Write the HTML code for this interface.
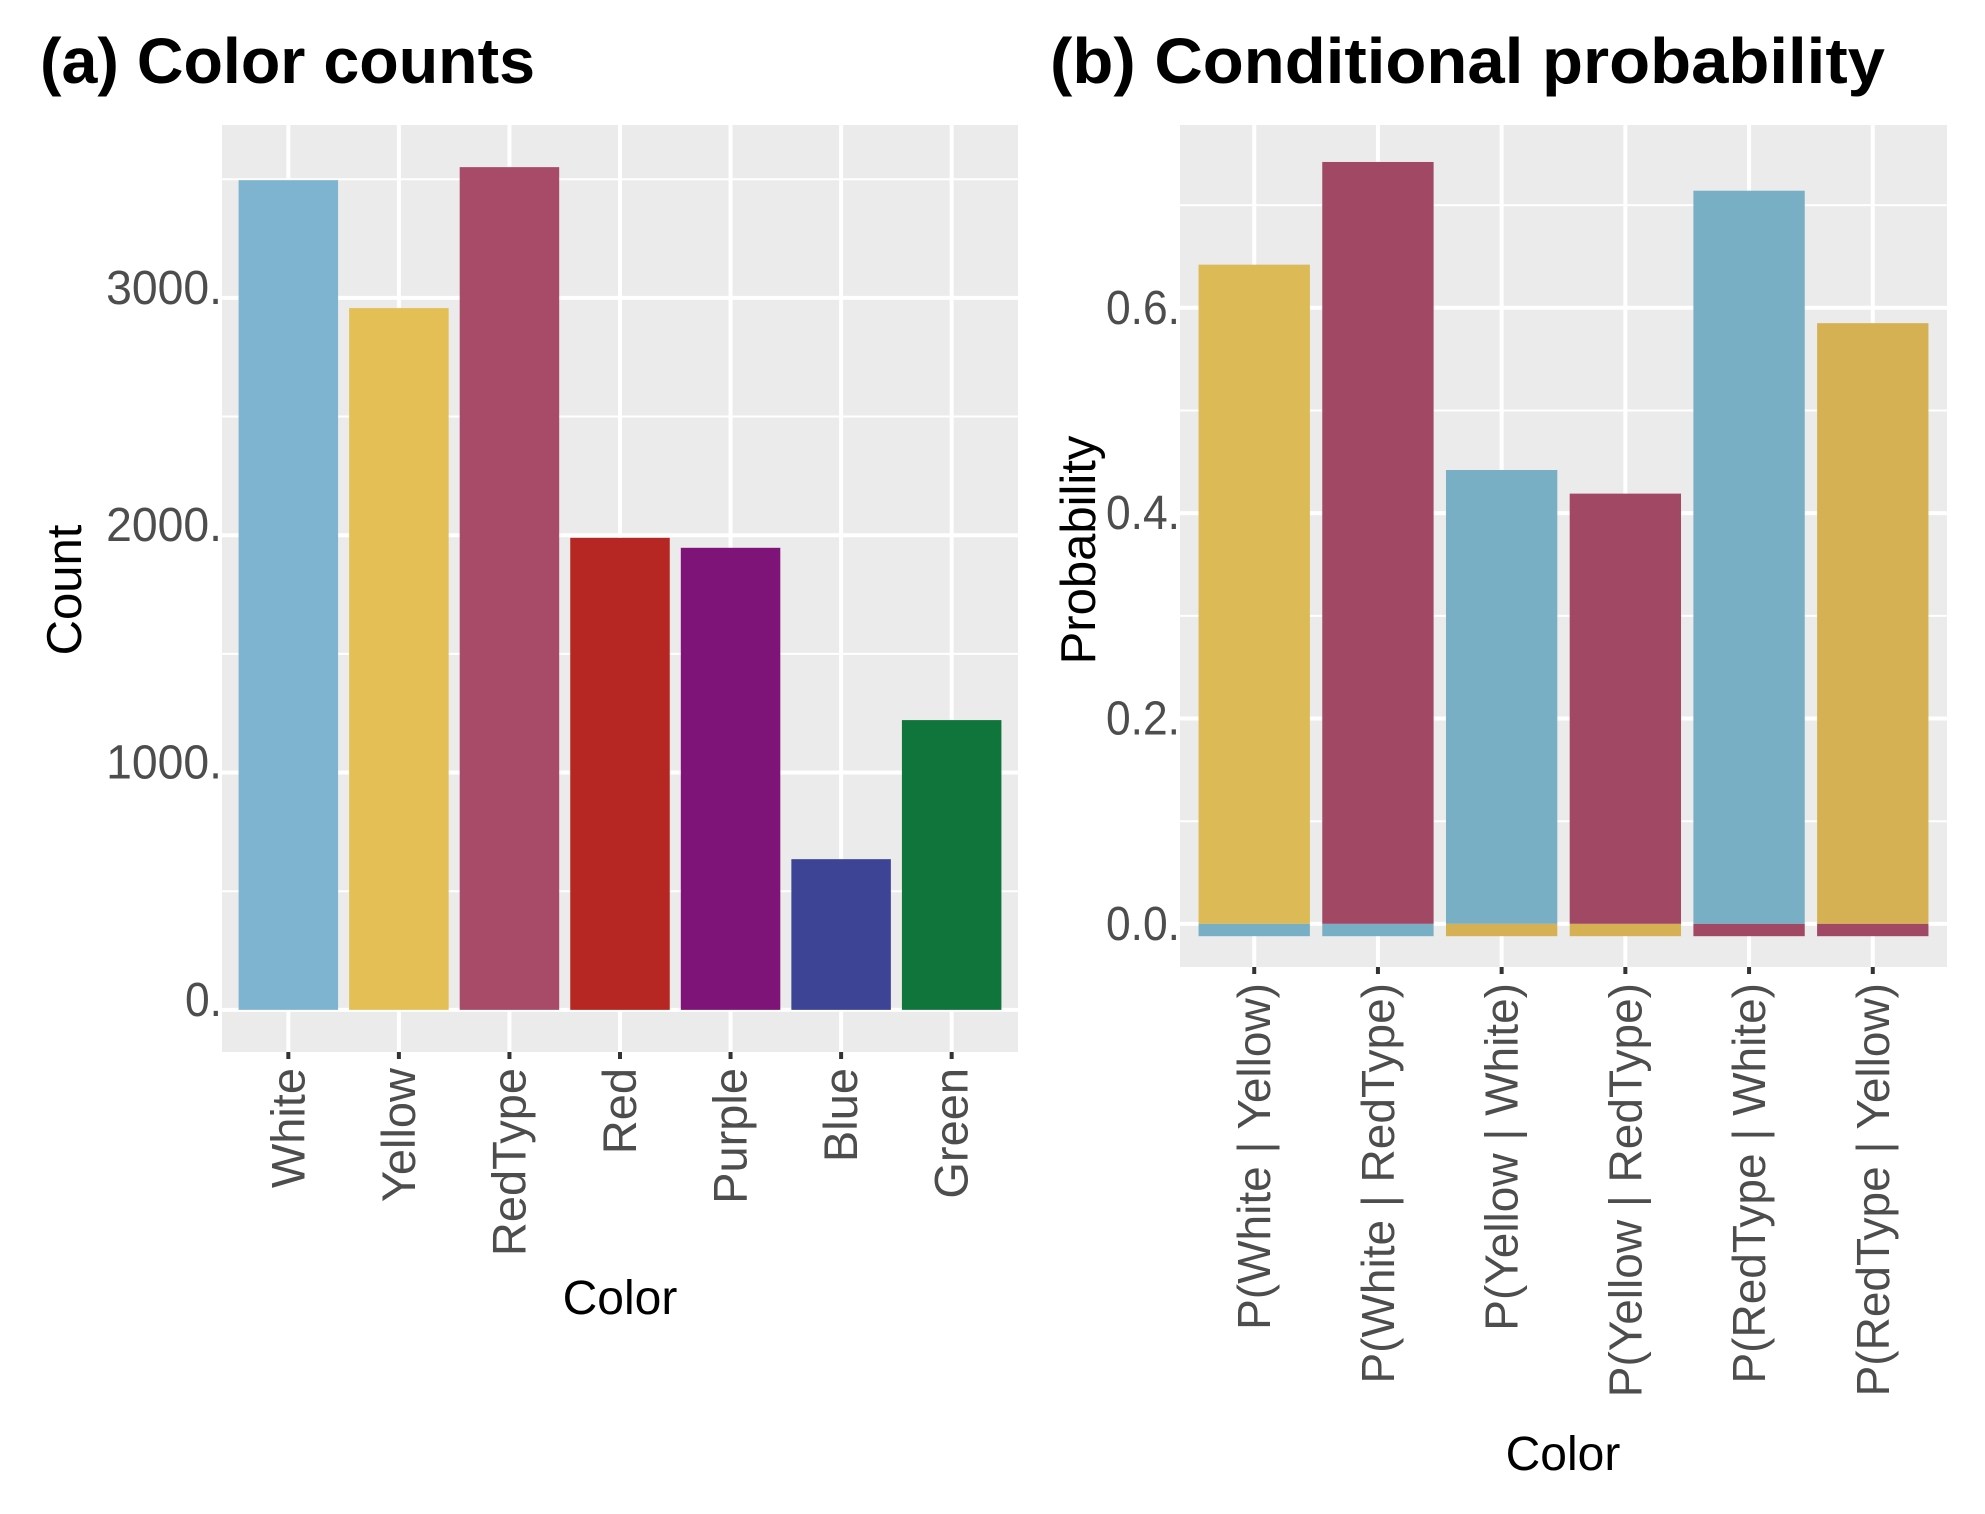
<!DOCTYPE html>
<html><head><meta charset="utf-8">
<style>
html,body{margin:0;padding:0;background:#fff;}
svg{display:block;font-family:"Liberation Sans",sans-serif;}
</style></head>
<body>
<svg id="fig" width="1985" height="1514" viewBox="0 0 1985 1514" xmlns="http://www.w3.org/2000/svg">
<text x="40" y="83" font-size="64" font-weight="bold" textLength="495" lengthAdjust="spacingAndGlyphs">(a) Color counts</text>
<text x="1050" y="83" font-size="64" font-weight="bold" textLength="835" lengthAdjust="spacingAndGlyphs">(b) Conditional probability</text>
<text transform="translate(81,590) rotate(-90)" text-anchor="middle" font-size="49">Count</text>
<text x="620" y="1314" text-anchor="middle" font-size="48">Color</text>
<text transform="translate(1095,550) rotate(-90)" text-anchor="middle" font-size="49">Probability</text>
<text x="1563" y="1470" text-anchor="middle" font-size="48">Color</text>
<g id="pa"></g>
<g id="pb"></g>
</svg>
<script>
// Panel (a) data
const catsA = ["White","Yellow","RedType","Red","Purple","Blue","Green"];
const countsA = [3496, 2957, 3551, 1989, 1947, 635, 1221];
const colorsA = ["#7eb4cf","#e3bf55","#a84b69","#b62622","#7e1477","#3d4395","#10753b"];
const ticksA = [0, 1000, 2000, 3000];
const tickLabelsA = ["0.", "1000.", "2000.", "3000."];
const minorA = [500, 1500, 2500, 3500];
// Panel (b) data
const catsB = ["P(White | Yellow)","P(White | RedType)","P(Yellow | White)","P(Yellow | RedType)","P(RedType | White)","P(RedType | Yellow)"];
const probB = [0.642, 0.742, 0.442, 0.419, 0.714, 0.585];
const negB = [-0.012, -0.012, -0.012, -0.012, -0.012, -0.012];
const colorsB = ["#dcba55","#a04864","#79afc5","#a04864","#79afc5","#d5b154"];
const negColorsB = ["#79afc5","#79afc5","#d5b154","#d5b154","#a04864","#a04864"];
const ticksB = [0, 0.2, 0.4, 0.6];
const tickLabelsB = ["0.0.", "0.2.", "0.4.", "0.6."];
const minorB = [0.1, 0.3, 0.5, 0.7];

const NS = "http://www.w3.org/2000/svg";
function mk(parent, tag, attrs){const e=document.createElementNS(NS,tag);for(const k in attrs)e.setAttribute(k,attrs[k]);parent.appendChild(e);return e;}
function labW(s){let w=0;for(const ch of s)w+=(ch==='.'?10.7:26.3);return w;}

function panel(g, cfg){
  const {left,right,top,bottom,ymin,ymax,cats,labelLen} = cfg;
  const n = cats.length;
  const unit = (right-left)/((n-1)+1.2);
  const xs = i => left + (0.6+i)*unit;
  const ys = v => bottom - (v-ymin)/(ymax-ymin)*(bottom-top);
  const bg = mk(g,"rect",{x:left,y:top,width:right-left,height:bottom-top,fill:"#ebebeb"});
  
  
  cfg.minor.forEach(v=>{
    const l=mk(g,"line",{x1:left,x2:right,y1:ys(v),y2:ys(v),stroke:"#fff","stroke-width":2});
    
    
  });
  cfg.ticks.forEach((v,i)=>{
    const l=mk(g,"line",{x1:left,x2:right,y1:ys(v),y2:ys(v),stroke:"#fff","stroke-width":4});
    
    
    const t=mk(g,"text",{x:left,y:ys(v)+cfg.labOff,"text-anchor":"end","font-size":48,fill:"#4d4d4d",textLength:labW(cfg.tickLabels[i]),lengthAdjust:"spacingAndGlyphs"});
    t.textContent=cfg.tickLabels[i];
    
    
  });
  cats.forEach((c,i)=>{
    const l=mk(g,"line",{x1:xs(i),x2:xs(i),y1:top,y2:bottom,stroke:"#fff","stroke-width":4});
    
    
  });
  const bw = unit*0.9;
  cats.forEach((c,i)=>{
    const v=cfg.values[i];
    const r=mk(g,"rect",{x:xs(i)-bw/2,y:ys(Math.max(v,0)),width:bw,height:Math.abs(ys(v)-ys(0)),fill:cfg.colors[i]});
    
    
    if(cfg.neg){
      const nv=cfg.neg[i];
      const r2=mk(g,"rect",{x:xs(i)-bw/2,y:ys(0),width:bw,height:Math.abs(ys(nv)-ys(0)),fill:cfg.negColors[i]});
      
      
    }
    const tk=mk(g,"line",{x1:xs(i),x2:xs(i),y1:bottom,y2:bottom+7,stroke:"#333","stroke-width":4});
    
    
    const t=mk(g,"text",{transform:`translate(${xs(i)+16},${bottom+16}) rotate(-90)`,"text-anchor":"end","font-size":labelLen,fill:"#4d4d4d"});
    t.textContent=c;
    
    
  });
}
const maxA = Math.max(...countsA);
panel(document.getElementById("pa"),{prefix:"a",left:222,right:1018,top:125,bottom:1052,ymin:-0.05*maxA,ymax:1.05*maxA,cats:catsA,values:countsA,colors:colorsA,ticks:ticksA,tickLabels:tickLabelsA,minor:minorA,labelLen:47,labOff:6});
panel(document.getElementById("pb"),{prefix:"b",left:1180,right:1947,top:125,bottom:967,ymin:-0.042,ymax:0.778,cats:catsB,values:probB,neg:negB,negColors:negColorsB,colors:colorsB,ticks:ticksB,tickLabels:tickLabelsB,minor:minorB,labelLen:46,labOff:16});
</script>
</body></html>
